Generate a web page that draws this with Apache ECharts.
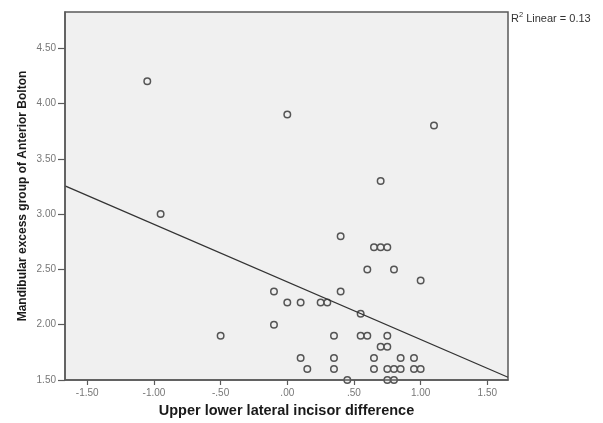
<!DOCTYPE html>
<html><head><meta charset="utf-8">
<script src="https://cdn.jsdelivr.net/npm/echarts@6/dist/echarts.min.js"></script>
<style>html,body{margin:0;padding:0;background:#fff}#c{width:603px;height:423px}</style>
</head><body><div id="c"></div>
<script>
// Data
const xValues = [-1.05, 0.00, 1.10, 0.70, -0.95, 0.40, 0.65, 0.70, 0.75, 0.60, 0.80, 1.00,
  -0.10, 0.40, 0.00, 0.10, 0.25, 0.30, 0.55, -0.10, -0.50, 0.35, 0.55, 0.60, 0.75,
  0.70, 0.75, 0.10, 0.35, 0.65, 0.85, 0.95, 0.15, 0.35, 0.65, 0.75, 0.80, 0.85, 0.95, 1.00,
  0.45, 0.75, 0.80];
const yValues = [4.20, 3.90, 3.80, 3.30, 3.00, 2.80, 2.70, 2.70, 2.70, 2.50, 2.50, 2.40,
  2.30, 2.30, 2.20, 2.20, 2.20, 2.20, 2.10, 2.00, 1.90, 1.90, 1.90, 1.90, 1.90,
  1.80, 1.80, 1.70, 1.70, 1.70, 1.70, 1.70, 1.60, 1.60, 1.60, 1.60, 1.60, 1.60, 1.60, 1.60,
  1.50, 1.50, 1.50];
const xTicks = [-1.5, -1.0, -0.5, 0.0, 0.5, 1.0, 1.5];
const yTicks = [1.5, 2.0, 2.5, 3.0, 3.5, 4.0, 4.5];
const xRange = [-1.667, 1.655];
const yRange = [1.5, 4.827];
const fitIntercept = 2.387;
const fitSlope = -0.521;
const rSquared = 0.13;
const xTitle = 'Upper lower lateral incisor difference';
const yTitle = 'Mandibular excess group of Anterior Bolton';

const points = xValues.map((x, i) => [x, yValues[i]]);
const fitLine = xRange.map(x => [x, fitIntercept + fitSlope * x]);
const fmt = v => { let s = Math.abs(v).toFixed(2); if (s.startsWith('0')) s = s.slice(1); return (v < 0 ? '-' : '') + s; };

const chart = echarts.init(document.getElementById('c'), null, {renderer: 'canvas'});
chart.setOption({
  animation: false,
  grid: {left: 65, right: 95, top: 12, bottom: 39, show: true, backgroundColor: '#f0f0f0', borderColor: '#5a5a5a', borderWidth: 1.5},
  graphic: [
    {type: 'rect', z: 5, shape: {x: 0, y: 385, width: 603, height: 38}, style: {fill: '#fff'}},
    {type: 'text', z: 5, left: 511, top: 11, style: {
      text: '{r|R}{s|2}{r| Linear = ' + rSquared.toFixed(2) + '}',
      rich: {r: {fontFamily: 'Liberation Sans', fontSize: 11, fill: '#333', verticalAlign: 'bottom'},
             s: {fontFamily: 'Liberation Sans', fontSize: 7.5, fill: '#333', verticalAlign: 'top', padding: [0, 0, 5, 0]}}
    }}
  ],
  xAxis: {
    type: 'value', min: xRange[0], max: xRange[1], z: 10,
    name: xTitle, nameLocation: 'middle', nameGap: 23, nameMoveOverlap: false,
    nameTextStyle: {fontFamily: 'Liberation Sans', fontWeight: 'bold', fontSize: 14.5, color: '#1a1a1a'},
    axisLine: {show: true, onZero: false, lineStyle: {color: '#5a5a5a', width: 1.5}},
    axisTick: {show: true, length: 5, customValues: xTicks, lineStyle: {color: '#5a5a5a', width: 1.2}},
    axisLabel: {customValues: xTicks, formatter: fmt, fontFamily: 'Liberation Sans', fontSize: 10, color: '#777', margin: 8},
    splitLine: {show: false}
  },
  yAxis: {
    type: 'value', min: yRange[0], max: yRange[1], z: 10,
    name: yTitle, nameLocation: 'middle', nameGap: 36, nameRotate: 90, nameMoveOverlap: false,
    nameTextStyle: {fontFamily: 'Liberation Sans', fontWeight: 'bold', fontSize: 12, color: '#1a1a1a'},
    axisLine: {show: true, onZero: false, lineStyle: {color: '#5a5a5a', width: 1.5}},
    axisTick: {show: true, length: 7, customValues: yTicks, lineStyle: {color: '#5a5a5a', width: 1.2}},
    axisLabel: {customValues: yTicks, formatter: fmt, fontFamily: 'Liberation Sans', fontSize: 10, color: '#777', margin: 9},
    splitLine: {show: false}
  },
  series: [
    {type: 'scatter', data: points, symbol: 'circle', symbolSize: 6.5, clip: false,
     itemStyle: {color: '#f0f0f0', borderColor: '#555', borderWidth: 1.5, opacity: 1}},
    {type: 'line', data: fitLine, symbol: 'none', lineStyle: {color: '#333', width: 1.3}}
  ]
});
</script></body></html>
